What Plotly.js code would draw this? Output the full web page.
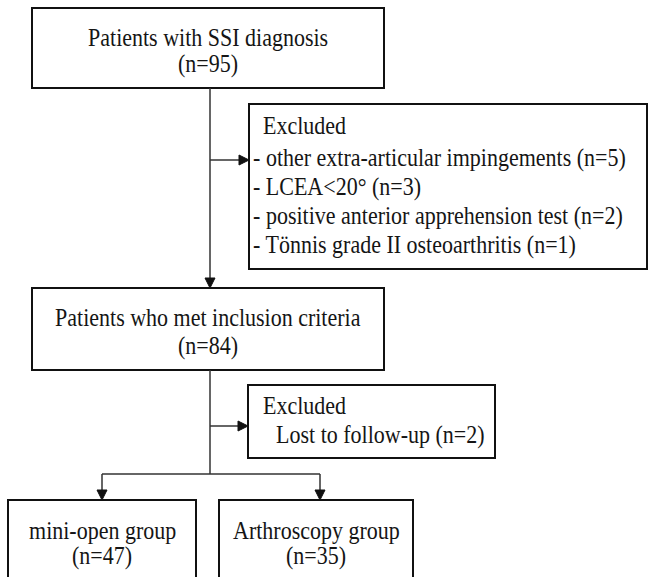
<!DOCTYPE html>
<html>
<head>
<meta charset="utf-8">
<script src="https://cdn.plot.ly/plotly-3.0.1.min.js"></script>
<style>
html,body{margin:0;padding:0;background:#fff;}
#chart{width:650px;height:577px;}
#chart .annotation-text{transform-box:fill-box;transform-origin:50% 50%;transform:scaleY(1.14);}
</style>
</head>
<body>
<div id="chart"></div>
<script>
// ---- data ----
const stageLabels = ["Patients with SSI diagnosis", "Patients who met inclusion criteria"];
const stageCounts = [95, 84];
const exclusionHeader = "Excluded";
const exclusionReasons1 = ["other extra-articular impingements", "LCEA<20°", "positive anterior apprehension test", "Tönnis grade II osteoarthritis"];
const exclusionCounts1 = [5, 3, 2, 1];
const exclusionReasons2 = ["Lost to follow-up"];
const exclusionCounts2 = [2];
const groupLabels = ["mini-open group", "Arthroscopy group"];
const groupCounts = [47, 35];

// ---- layout geometry (pixels) ----
const FONT = {family: "'Liberation Serif', 'Times New Roman', Times, serif", size: 22, color: "#151515"};
const boxLine = {color: "#111", width: 2};
const connLine = {color: "#333", width: 1.5};

const shapes = [];
const annotations = [];
function box(x0, y0, x1, y1) {
  shapes.push({type: "rect", xref: "x", yref: "y", x0, y0, x1, y1, line: boxLine, fillcolor: "rgba(0,0,0,0)"});
}
function seg(x0, y0, x1, y1) {
  shapes.push({type: "line", xref: "x", yref: "y", x0, y0, x1, y1, line: connLine});
}
function headRight(x, y) {
  shapes.push({type: "path", xref: "x", yref: "y", path: `M${x},${y} L${x-10},${y-5} L${x-10},${y+5} Z`, fillcolor: "#111", line: {color: "#111", width: 1}});
}
function headDown(x, y) {
  shapes.push({type: "path", xref: "x", yref: "y", path: `M${x},${y} L${x-5},${y-10} L${x+5},${y-10} Z`, fillcolor: "#111", line: {color: "#111", width: 1}});
}
function txt(x, y, text, anchor) {
  annotations.push({xref: "x", yref: "y", x, y, text, showarrow: false, xanchor: anchor || "center", yanchor: "middle", font: FONT});
}
const n = v => `(n=${v})`;

// stage 1
box(32, 8, 384, 88);
txt(208, 37, stageLabels[0]);
txt(208, 63, n(stageCounts[0]));
// exclusion box 1
box(249, 104, 647, 269);
txt(261, 125, exclusionHeader, "left");
exclusionReasons1.forEach((r, i) => txt(251, 157 + i * 29, `- ${r} (n=${exclusionCounts1[i]})`, "left"));
// connectors stage1 -> stage2
seg(210, 88, 210, 279);
headDown(210, 288);
seg(210, 160, 240, 160);
headRight(249, 160);
// stage 2
box(32, 288, 384, 370);
txt(208, 317, stageLabels[1]);
txt(208, 345, n(stageCounts[1]));
// exclusion box 2
box(248, 385, 495, 458);
txt(261, 405, exclusionHeader, "left");
exclusionReasons2.forEach((r, i) => txt(274, 434 + i * 29, `${r} (n=${exclusionCounts2[i]})`, "left"));
// connectors stage2 -> groups
seg(210, 370, 210, 474);
seg(210, 426, 239, 426);
headRight(248, 426);
seg(102, 474, 320, 474);
seg(102, 474, 102, 491);
seg(320, 474, 320, 491);
headDown(102, 500);
headDown(320, 500);
// group boxes
box(8, 500, 196, 600);
box(219, 500, 413, 600);
const groupCenters = [102, 316];
groupLabels.forEach((g, i) => {
  txt(groupCenters[i], 530, g);
  txt(groupCenters[i], 555, n(groupCounts[i]));
});

const layout = {
  width: 650, height: 577,
  margin: {l: 0, r: 0, t: 0, b: 0},
  paper_bgcolor: "#fff", plot_bgcolor: "#fff",
  xaxis: {range: [0, 650], visible: false, fixedrange: true},
  yaxis: {range: [577, 0], visible: false, fixedrange: true},
  shapes, annotations, showlegend: false
};
Plotly.newPlot("chart", [{x: [0], y: [0], mode: "markers", marker: {opacity: 0}, hoverinfo: "skip"}], layout, {displayModeBar: false, staticPlot: true});
</script>
</body>
</html>
